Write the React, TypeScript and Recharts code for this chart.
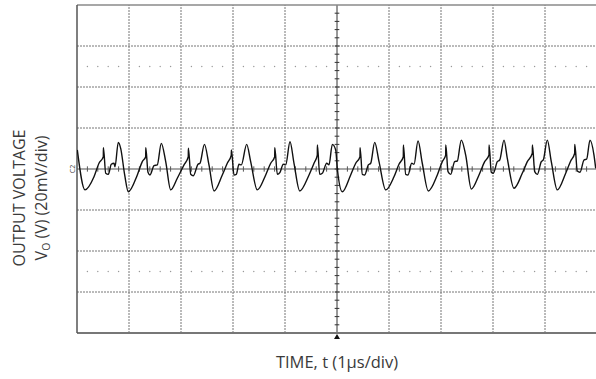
import React from 'react';
import { LineChart, Line, XAxis, YAxis, ReferenceLine, ReferenceDot } from 'recharts';

// Output ripple trace, time in µs and voltage in mV (20 mV/div, 1 µs/div)
const timeUs = [
  0.006, 0.154, 0.327, 0.423, 0.506, 0.508, 0.552, 0.602, 0.66, 0.712, 0.731, 0.794, 0.84, 0.917, 0.987,
  1.16, 1.256, 1.321, 1.323, 1.365, 1.404, 1.481, 1.544, 1.621, 1.706, 1.802,
  1.929, 2.058, 2.14, 2.142, 2.187, 2.237, 2.327, 2.365, 2.45, 2.538, 2.635,
  2.794, 2.89, 2.967, 2.969, 3.019, 3.063, 3.115, 3.16, 3.263, 3.34, 3.467,
  3.629, 3.725, 3.802, 3.804, 3.852, 3.904, 3.967, 4.013, 4.096, 4.173, 4.283,
  4.462, 4.558, 4.621, 4.623, 4.667, 4.717, 4.802, 4.846, 4.91, 4.975, 5.006, 5.102,
  5.263, 5.36, 5.442, 5.444, 5.487, 5.533, 5.602, 5.648, 5.725, 5.808, 5.937,
  6.096, 6.192, 6.275, 6.277, 6.321, 6.365, 6.437, 6.481, 6.558, 6.64, 6.756,
  6.929, 7.025, 7.09, 7.092, 7.135, 7.187, 7.263, 7.313, 7.39, 7.475, 7.583,
  7.731, 7.84, 7.923, 7.925, 7.967, 8.006, 8.083, 8.129, 8.212, 8.275, 8.404,
  8.563, 8.66, 8.756, 8.758, 8.802, 8.852, 8.929, 8.967, 9.044, 9.121, 9.237,
  9.398, 9.494, 9.571, 9.573, 9.621, 9.673, 9.75, 9.802, 9.865, 9.942, 9.975,
];
const outputMv = [
  9.3, -10.2, -3.8, 2.8, 6.0, 10.4, -2.1, -2.6, 2.3, 2.8, 1.1, 13.0, 10.1, -2.9, -11.1,
  -2.9, 3.6, 6.0, 10.4, -1.6, -2.9, 1.6, 2.0, 12.5, 3.6, -10.2,
  -4.5, 2.0, 6.0, 10.1, -2.6, -3.3, 2.3, 2.8, 12.0, 2.0, -10.7,
  -2.9, 2.8, 6.8, 9.3, -2.9, -2.6, 2.3, 2.0, 12.0, 3.6, -10.2,
  -2.9, 2.8, 6.0, 10.4, -2.6, -1.6, 2.3, 2.0, 13.3, 2.8, -10.7,
  -2.9, 2.8, 6.8, 11.7, -2.6, -2.1, 2.8, 2.0, 12.0, 9.3, 0.3, -11.1,
  -2.9, 2.8, 6.0, 10.4, -2.6, -2.9, 2.0, 2.8, 13.0, 3.6, -10.2,
  -3.8, 2.3, 6.0, 11.7, -2.6, -2.9, 2.8, 2.3, 13.7, 2.8, -10.7,
  -2.9, 3.6, 6.8, 11.7, -1.3, -2.6, 3.6, 3.9, 14.1, 6.8, -9.8,
  -2.9, 3.6, 6.8, 11.7, -1.6, -2.1, 3.6, 4.4, 14.1, 5.2, -9.4,
  -2.1, 3.6, 7.7, 11.7, -1.3, -2.6, 3.6, 4.4, 14.1, 3.6, -10.2,
  -2.1, 3.9, 7.7, 12.0, -1.0, -1.6, 4.4, 4.9, 14.1, 6.8, 0.3,
];

const trace = timeUs.map((t, i) => ({ t, v: outputMv[i] }));

// graticule: 10 x 8 divisions, center cross carries 5 minor ticks per division
const timeDivs = [1, 2, 3, 4, 6, 7, 8, 9];
const voltDivs = [-60, -40, -20, 20, 40, 60];
const minorTimes = Array.from({ length: 49 }, (_, i) => +((i + 1) * 0.2).toFixed(1));
const minorVolts = Array.from({ length: 39 }, (_, i) => -76 + i * 4);
const dotTimes = minorTimes.filter((t) => Math.abs(t - Math.round(t)) > 0.01);
const dotRows = [50, -50];

const gridColor = '#777';
const textColor = '#3a3a3a';
const font = '"Open Sans", sans-serif';

const TriggerMark = (props: any) => {
  const { cx, cy } = props;
  return <polygon points={`${cx},${cy + 1} ${cx - 3},${cy + 6} ${cx + 3},${cy + 6}`} fill="#111" />;
};

export default function App() {
  return (
    <div style={{ position: 'absolute', left: 0, top: 0, width: 596, height: 379, overflow: 'hidden', background: '#fff' }}>
      <LineChart width={600} height={379} data={trace} margin={{ top: 5, right: 3, bottom: 46, left: 77 }}>
        <XAxis hide type="number" dataKey="t" domain={[0, 10]} allowDataOverflow />
        <YAxis hide type="number" domain={[-80, 80]} allowDataOverflow />

        {timeDivs.map((t) => (
          <ReferenceLine key={`gx${t}`} x={t} stroke={gridColor} strokeDasharray="2 1" />
        ))}
        {voltDivs.map((v) => (
          <ReferenceLine key={`gy${v}`} y={v} stroke={gridColor} strokeDasharray="2 1" />
        ))}
        {dotRows.map((v) =>
          dotTimes.map((t) => (
            <ReferenceDot key={`d${v}_${t}`} x={t} y={v} r={0.7} fill="#999" stroke="none" />
          ))
        )}

        <ReferenceLine y={0} stroke="#8a8a8a" strokeWidth={1.5} />
        <ReferenceLine x={5} stroke="#333" strokeWidth={1} />
        {minorTimes.map((t) => (
          <ReferenceLine key={`tx${t}`} segment={[{ x: t, y: -1.3 }, { x: t, y: 1.3 }]} stroke="#555" />
        ))}
        {minorVolts.map((v) => (
          <ReferenceLine key={`ty${v}`} segment={[{ x: 4.955, y: v }, { x: 5.045, y: v }]} stroke="#333" />
        ))}

        <ReferenceLine y={80} stroke="#8a8a8a" strokeWidth={1.5} />
        <ReferenceLine y={-80} stroke="#777" strokeWidth={2} />
        <ReferenceLine x={0} stroke="#555" strokeWidth={1.5} />

        <Line
          type="monotoneX"
          dataKey="v"
          stroke="#111"
          strokeWidth={1.4}
          dot={false}
          isAnimationActive={false}
        />

        <ReferenceDot x={5} y={-80} r={3} shape={TriggerMark} />

        <text x={75} y={169} transform="rotate(-90 75 169)" textAnchor="middle" fontSize={7} fill="#444" fontFamily={font}>
          C2
        </text>
        <text x={337} y={368} textAnchor="middle" fontSize={16.5} fill={textColor} fontFamily={font}>
          TIME, t (1µs/div)
        </text>
        <text x={25} y={198} transform="rotate(-90 25 198)" textAnchor="middle" fontSize={16} fill={textColor} fontFamily={font}>
          OUTPUT VOLTAGE
        </text>
        <text x={47} y={198} transform="rotate(-90 47 198)" textAnchor="middle" fontSize={16} fill={textColor} fontFamily={font}>
          V<tspan fontSize={10.5} dy={3}>O</tspan>
          <tspan dy={-3}> (V) (20mV/div)</tspan>
        </text>
      </LineChart>
    </div>
  );
}
